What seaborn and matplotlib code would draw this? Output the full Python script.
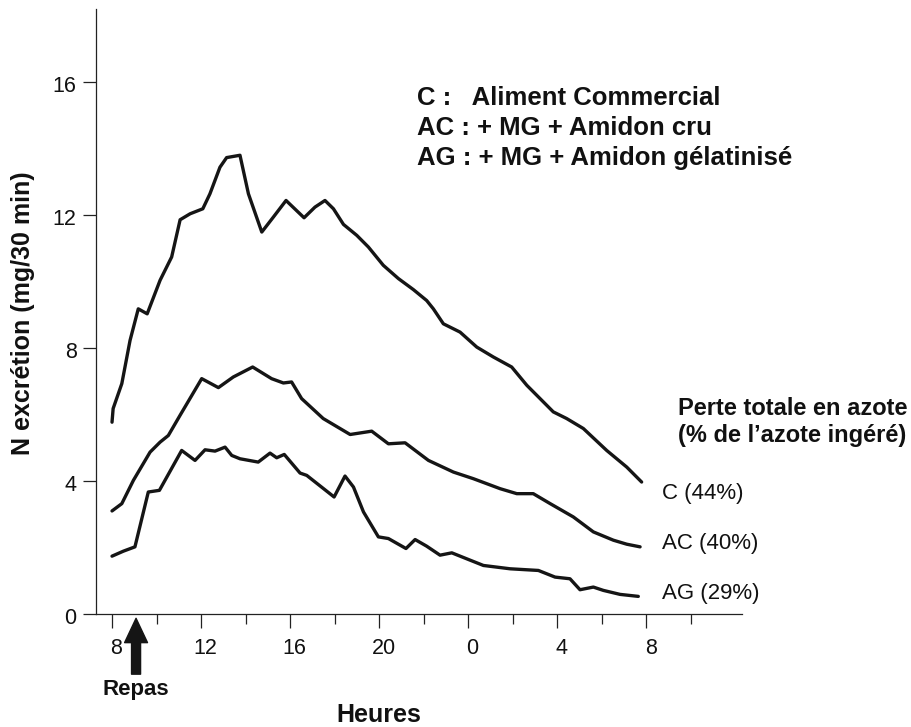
import matplotlib
matplotlib.use("Agg")
import matplotlib.pyplot as plt
import matplotlib.transforms as mtransforms
import numpy as np
import pandas as pd
import seaborn as sns

# ---------------- data ----------------
c_hours = [8.0, 8.05, 8.44, 8.81, 9.18, 9.58, 10.16, 10.68, 11.06, 11.51, 12.08, 12.40,
           12.85, 13.15, 13.75, 14.13, 14.73, 15.25, 15.82, 16.63, 17.12, 17.57, 17.95,
           18.40, 19.0, 19.52, 20.19, 20.87, 21.54, 22.14, 22.44, 22.89, 23.64, 24.39,
           25.14, 25.96, 26.64, 27.83, 28.43, 29.18, 30.23, 31.13, 31.80]
c_values = [5.77, 6.18, 6.93, 8.23, 9.18, 9.03, 10.04, 10.74, 11.86, 12.04, 12.19, 12.64,
            13.44, 13.73, 13.80, 12.64, 11.49, 11.94, 12.44, 11.92, 12.24, 12.44, 12.19,
            11.72, 11.39, 11.04, 10.49, 10.09, 9.76, 9.43, 9.18, 8.73, 8.48, 8.03,
            7.73, 7.43, 6.88, 6.08, 5.88, 5.58, 4.92, 4.42, 3.97]

ac_hours = [8.0, 8.44, 8.96, 9.71, 10.16, 10.53, 11.06, 12.03, 12.78, 13.45, 14.32, 15.17,
            15.70, 16.07, 16.52, 17.49, 18.70, 19.67, 20.42, 21.17, 22.22, 23.34, 24.24,
            25.44, 26.19, 26.93, 27.69, 28.73, 29.63, 30.53, 31.13, 31.73]
ac_values = [3.10, 3.32, 4.02, 4.87, 5.17, 5.37, 5.98, 7.08, 6.81, 7.13, 7.43, 7.08,
             6.95, 6.98, 6.48, 5.88, 5.40, 5.50, 5.12, 5.15, 4.62, 4.27, 4.07,
             3.77, 3.62, 3.62, 3.32, 2.92, 2.47, 2.22, 2.10, 2.02]

ag_hours = [8.0, 8.51, 9.03, 9.63, 10.13, 11.13, 11.73, 12.18, 12.63, 13.08, 13.38, 13.75,
            14.57, 15.10, 15.40, 15.74, 16.45, 16.75, 17.98, 18.47, 18.85, 19.30, 19.97,
            20.42, 21.21, 21.62, 22.14, 22.74, 23.27, 24.09, 24.69, 25.89, 27.16, 27.91,
            28.58, 29.03, 29.63, 30.08, 30.83, 31.65]
ag_values = [1.74, 1.89, 2.02, 3.67, 3.72, 4.92, 4.62, 4.94, 4.90, 5.02, 4.77, 4.67,
             4.57, 4.84, 4.70, 4.80, 4.24, 4.17, 3.52, 4.15, 3.82, 3.07, 2.32,
             2.27, 1.97, 2.24, 2.04, 1.77, 1.84, 1.62, 1.46, 1.36, 1.31, 1.11,
             1.06, 0.73, 0.81, 0.71, 0.59, 0.53]

series_names = ["C", "AC", "AG"]
series_labels = ["C (44%)", "AC (40%)", "AG (29%)"]
x_major_ticks = [8, 12, 16, 20, 24, 28, 32]
x_tick_labels = ["8", "12", "16", "20", "0", "4", "8"]
x_minor_ticks = [10, 14, 18, 22, 26, 30, 34]
y_ticks = [0, 4, 8, 12, 16]
legend_lines = ["C :   Aliment Commercial",
                "AC : + MG + Amidon cru",
                "AG : + MG + Amidon gélatinisé"]

# ---------------- figure ----------------
sns.set_theme(style="ticks")
plt.rcParams['font.family'] = ['Liberation Sans', 'DejaVu Sans']

W, H = 912, 727
fig = plt.figure(figsize=(W / 100, H / 100), dpi=100)
fig.patch.set_facecolor("white")
ax = fig.add_axes([96 / W, 1 - 614 / H, 646 / W, 605 / H])
ax.set_facecolor("white")

df = pd.concat([
    pd.DataFrame({"hour": c_hours, "value": c_values, "series": "C"}),
    pd.DataFrame({"hour": ac_hours, "value": ac_values, "series": "AC"}),
    pd.DataFrame({"hour": ag_hours, "value": ag_values, "series": "AG"}),
], ignore_index=True)

sns.lineplot(data=df, x="hour", y="value", hue="series", hue_order=series_names,
             palette=["#151515"] * 3, linewidth=2.4, estimator=None, sort=False,
             legend=False, ax=ax)

ax.set_xlim(7.28, 36.31)
ax.set_ylim(0, 18.2)

for side in ["top", "right"]:
    ax.spines[side].set_visible(False)
for side in ["left", "bottom"]:
    ax.spines[side].set_color("#222222")
    ax.spines[side].set_linewidth(0.9)

ax.set_xticks(x_major_ticks)
ax.set_xticklabels(x_tick_labels)
ax.set_xticks(x_minor_ticks, minor=True)
ax.set_yticks(y_ticks)
ax.set_yticklabels([str(v) for v in y_ticks])
ax.tick_params(axis="x", which="major", length=10, width=0.9, color="#222222",
               labelsize=15.5, pad=7, labelcolor="#111111")
ax.tick_params(axis="x", which="minor", length=7, width=0.9, color="#222222")
ax.tick_params(axis="y", which="major", length=9.5, width=0.9, color="#222222",
               labelsize=15.5, pad=4.5, labelcolor="#111111")

# x tick labels are drawn slightly right of their ticks in the reference
shift = mtransforms.ScaledTranslation(0.045, 0, fig.dpi_scale_trans)
for lab in ax.get_xticklabels():
    lab.set_transform(lab.get_transform() + shift)
shift_y = mtransforms.ScaledTranslation(0, -0.02, fig.dpi_scale_trans)
for lab in ax.get_yticklabels():
    lab.set_transform(lab.get_transform() + shift_y)

ax.set_xlabel("")
ax.set_ylabel("")

# y label
fig.text(23 / W, 1 - 313 / H, "N excrétion (mg/30 min)", rotation=90,
         ha="center", va="center", fontsize=18, fontweight="bold", color="#111111")
# x label
fig.text(379 / W, 1 - 715 / H, "Heures", ha="center", va="center",
         fontsize=18, fontweight="bold", color="#111111")
# Repas
fig.text(136 / W, 1 - 690 / H, "Repas", ha="center", va="center",
         fontsize=16, fontweight="bold", color="#111111")
ax.annotate("", xy=(9.08, -0.13), xytext=(9.08, -1.81), xycoords="data",
            annotation_clip=False,
            arrowprops=dict(facecolor="#151515", edgecolor="#151515",
                            width=6.5, headwidth=16.5, headlength=17.5, shrink=0))

# series labels
for lab, yv in zip(series_labels, [3.63, 2.13, 0.63]):
    ax.text(32.71, yv, lab, ha="left", va="center", fontsize=16, color="#111111",
            clip_on=False)

# Perte totale text
ax.text(33.44, 6.19, "Perte totale en azote", ha="left", va="center", fontsize=17,
        fontweight="bold", color="#111111", clip_on=False)
ax.text(33.44, 5.37, "(% de l\u2019azote ingéré)", ha="left", va="center", fontsize=17,
        fontweight="bold", color="#111111", clip_on=False)

# top legend block
for txt, yv in zip(legend_lines, [15.51, 14.61, 13.71]):
    ax.text(21.71, yv, txt, ha="left", va="center", fontsize=18.5,
            fontweight="bold", color="#111111")

fig.savefig("out.png", dpi=100, facecolor="white")
